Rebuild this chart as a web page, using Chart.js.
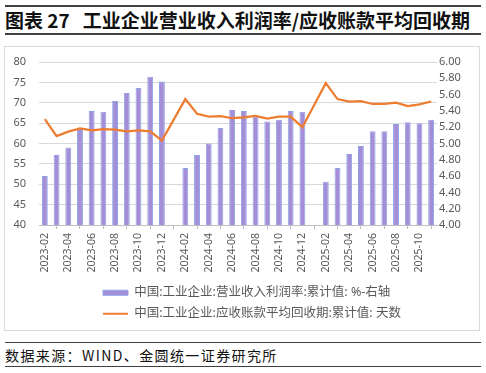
<!DOCTYPE html>
<html>
<head>
<meta charset="utf-8">
<script src="https://cdn.jsdelivr.net/npm/chart.js@4.4.1/dist/chart.umd.min.js"></script>
<style>
    html, body { margin: 0; padding: 0; background: #fff; }
    body { width: 486px; height: 373px; position: relative; overflow: hidden;
           font-family: "Noto Sans CJK SC", sans-serif; }
    .rule { position: absolute; left: 5px; width: 476px; height: 2px; background: #404040; }
    #title { position: absolute; left: 5px; top: 7px; font-size: 19px; font-weight: 700;
             color: #111; line-height: 26px; white-space: nowrap; }
    #frame { position: absolute; left: 5px; top: 47px; width: 474px; height: 283px;
             outline: 1px solid #d9d9d9; }
    #box { position: absolute; left: 5px; top: 47px; width: 474px; height: 286px; }
    #source { position: absolute; left: 5px; top: 345px; font-size: 14px; color: #111;
              letter-spacing: 1.4px; line-height: 20px; white-space: nowrap; }
</style>
</head>
<body>
<div class="rule" style="top:5px"></div>
<div id="title">图表 27&nbsp;&nbsp;&nbsp;工业企业营业收入利润率/应收账款平均回收期</div>
<div class="rule" style="top:33px"></div>
<div id="frame"></div>
<div id="box"><canvas id="chart"></canvas></div>
<div class="rule" style="top:342px;height:1px"></div>
<div id="source">数据来源：WIND、金圆统一证券研究所</div>
<div class="rule" style="top:366px;height:1px"></div>
<script>
// 月份（1月无数据）
var months = [
    '2023-02', '2023-03', '2023-04', '2023-05', '2023-06', '2023-07', '2023-08', '2023-09', '2023-10', '2023-11', '2023-12',
    '2024-01', '2024-02', '2024-03', '2024-04', '2024-05', '2024-06', '2024-07', '2024-08', '2024-09', '2024-10', '2024-11', '2024-12',
    '2025-01', '2025-02', '2025-03', '2025-04', '2025-05', '2025-06', '2025-07', '2025-08', '2025-09', '2025-10', '2025-11'
];

// 营业收入利润率：累计值 %（右轴）
var profitMargin = [
    4.60, 4.86, 4.95, 5.19, 5.40, 5.39, 5.52, 5.62, 5.68, 5.82, 5.76,
    null, 4.70, 4.86, 5.00, 5.19, 5.41, 5.40, 5.33, 5.27, 5.29, 5.40, 5.39,
    null, 4.53, 4.70, 4.87, 4.97, 5.15, 5.15, 5.24, 5.26, 5.25, 5.29
];

// 应收账款平均回收期：累计值 天数（左轴）
var collectionDays = [
    66.0, 61.8, 62.9, 63.7, 63.2, 63.5, 63.4, 63.0, 63.2, 63.0, 60.7,
    null, 70.9, 67.3, 66.6, 66.7, 66.2, 66.4, 66.8, 66.1, 66.6, 66.6, 64.0,
    null, 74.8, 70.9, 70.3, 70.4, 69.7, 69.7, 70.0, 69.2, 69.6, 70.3
];

var barLabel = '中国:工业企业:营业收入利润率:累计值: %-右轴';
var lineLabel = '中国:工业企业:应收账款平均回收期:累计值: 天数';

var grey = '#595959';
Chart.defaults.font.family = '"Noto Sans", "Noto Sans CJK SC", sans-serif';
Chart.defaults.color = grey;

// 图例两行左对齐
var legendShift = {
    id: 'legendShift',
    afterLayout: function (chart) {
        chart.legend.left = 98 - chart.options.plugins.legend.labels.padding;
    }
};

var ctx = document.getElementById('chart').getContext('2d');
new Chart(ctx, {
    data: {
        labels: months,
        datasets: [
            {
                type: 'bar',
                label: barLabel,
                data: profitMargin,
                yAxisID: 'y1',
                backgroundColor: '#a48ed8',
                borderColor: '#8fa2e6',
                borderWidth: 1,
                barPercentage: 0.5,
                categoryPercentage: 1,
                order: 1
            },
            {
                type: 'line',
                label: lineLabel,
                data: collectionDays,
                yAxisID: 'y',
                borderColor: '#ed7d31',
                backgroundColor: '#ed7d31',
                borderWidth: 2.25,
                pointRadius: 0,
                tension: 0,
                spanGaps: true,
                order: 0
            }
        ]
    },
    plugins: [legendShift],
    options: {
        responsive: true,
        maintainAspectRatio: false,
        animation: false,
        layout: { padding: { top: 15, bottom: 3, left: 0, right: 0 } },
        plugins: {
            tooltip: { enabled: false },
            legend: {
                position: 'bottom',
                align: 'start',
                labels: {
                    color: grey,
                    font: { size: 12.5 },
                    usePointStyle: true,
                    pointStyleWidth: 25,
                    boxHeight: 5,
                    padding: 8.5,
                    sort: function (a, b) { return a.datasetIndex - b.datasetIndex; },
                    generateLabels: function (chart) {
                        var items = Chart.defaults.plugins.legend.labels.generateLabels(chart);
                        items.forEach(function (it) {
                            if (it.datasetIndex === 0) {
                                it.pointStyle = 'rect';
                                it.fillStyle = '#a48ed8';
                                it.strokeStyle = '#8fa2e6';
                                it.lineWidth = 1;
                            } else {
                                it.pointStyle = 'line';
                                it.strokeStyle = '#ed7d31';
                                it.lineWidth = 2;
                            }
                        });
                        return items;
                    }
                }
            }
        },
        scales: {
            x: {
                offset: true,
                border: { color: '#bfbfbf' },
                grid: {
                    offset: false,
                    drawOnChartArea: false,
                    tickLength: 4,
                    color: function (c) { return c.index % 2 === 1 ? '#bfbfbf' : 'rgba(0,0,0,0)'; }
                },
                ticks: {
                    autoSkip: false,
                    minRotation: 90,
                    maxRotation: 90,
                    padding: 4,
                    font: { size: 10.5 },
                    callback: function (v, i) { return i % 2 === 0 ? months[i] : ''; }
                },
                afterFit: function (axis) { axis.height = 53; }
            },
            y: {
                position: 'left',
                min: 40,
                max: 80,
                border: { display: false },
                grid: { color: '#d9d9d9', tickLength: 10, tickColor: 'rgba(0,0,0,0)' },
                ticks: { stepSize: 5, autoSkip: false, padding: 3, font: { size: 11 } },
                afterFit: function (axis) { axis.width = 34; }
            },
            y1: {
                position: 'right',
                min: 4,
                max: 6,
                border: { display: false },
                grid: { display: false, drawTicks: false },
                ticks: {
                    stepSize: 0.2,
                    autoSkip: false,
                    padding: 2,
                    font: { size: 11 },
                    callback: function (v) { return v.toFixed(2); }
                },
                afterFit: function (axis) { axis.width = 42; }
            }
        }
    }
});
</script>
</body>
</html>
